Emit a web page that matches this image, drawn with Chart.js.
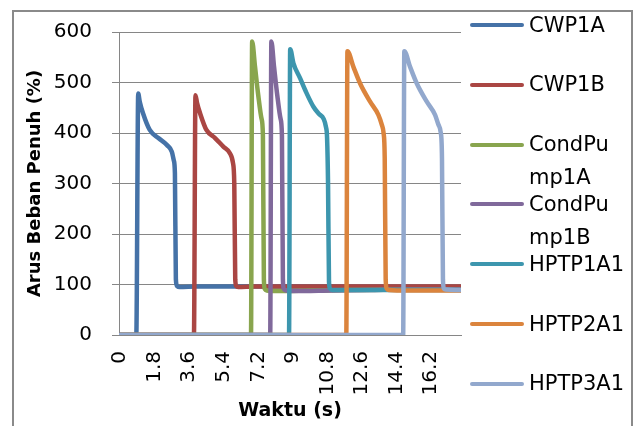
<!DOCTYPE html>
<html><head><meta charset="utf-8">
<script src="https://cdn.jsdelivr.net/npm/chart.js@4.4.0/dist/chart.umd.min.js"></script>
<style>
html,body{margin:0;padding:0;background:#fff;overflow:hidden}
#wrap{position:relative;width:634px;height:426px;overflow:hidden}
#frame{position:absolute;left:12px;top:10px;width:621px;height:520px;border-left:2px solid #8a8a8a;border-top:2px solid #8a8a8a;border-right:2px solid #8a8a8a;box-sizing:border-box}
#c{position:absolute;left:0;top:0}
#legend{position:absolute;left:0;top:0;font-family:"DejaVu Sans";font-size:21px;color:#000}
.li{position:absolute;left:470px;height:33px;line-height:33px}
.sw{position:absolute;left:0;top:14.5px;width:54px;height:4px;border-radius:2px}
.tx{position:absolute;left:59px;top:0;width:98px;word-break:break-all;white-space:normal}
</style></head>
<body>
<div id="wrap">
<div id="frame"></div>
<canvas id="c" width="634" height="426"></canvas>
<div id="legend"></div>
</div>
<script>
// ---- data ----
const seriesNames = ['CWP1A','CWP1B','CondPump1A','CondPump1B','HPTP1A1','HPTP2A1','HPTP3A1'];
const seriesColors = ['#4572A7','#AA4643','#89A54E','#80699B','#3D96AE','#DB843D','#92A8CD'];

const tickValues = [0,1.8,3.6,5.4,7.2,9,10.8,12.6,14.4,16.2];
const tickLabels = ['0','1.8','3.6','5.4','7.2','9','10.8','12.6','14.4','16.2'];

const cwp1aT = [0,0.85,0.95,1.03,1.2,1.55,2.0,2.45,2.7,2.8,2.86,2.91,2.97,3.1,4.0,6.0,9.0,12.0,15.0,17.7];
const cwp1aV = [0,0,478,462,439,406,390,376,363,346,320,110,97,95,96,96,96,95,95,95];

const cwp1bT = [0,3.85,3.93,4.01,4.17,4.5,4.95,5.38,5.72,5.88,5.95,6.0,6.05,6.15,7,9,12,15,17.7];
const cwp1bV = [0,0,475,460,439,406,390,373,360,341,300,110,97,95,96,96,96,96,96];

const cond1aT = [0,6.82,6.88,7.03,7.2,7.37,7.44,7.49,7.54,7.65,8,10,12,15,17.7];
const cond1aV = [0,0,581,531,474,428,395,110,91,88,87,88,89,90,90];

const cond1bT = [0,7.82,7.88,8.02,8.19,8.36,8.43,8.48,8.53,8.65,9,11,13,15,17.7];
const cond1bV = [0,0,581,531,474,428,395,110,91,88,87,88,89,90,90];

const hptp1T = [0,8.8,8.86,9.03,9.38,9.7,10.07,10.35,10.6,10.72,10.78,10.83,10.88,10.93,11.05,12,14,17.7];
const hptp1V = [0,0,566,538,508,480,452,438,428,412,390,300,105,92,89,89,89,89];

const hptp2T = [0,11.78,11.84,12.15,12.5,13.02,13.45,13.63,13.72,13.78,13.83,13.88,14.0,15,17.7];
const hptp2V = [0,0,562,531,498,462,436,416,400,350,110,92,89,88,88];

const hptp3T = [0,14.74,14.8,15.1,15.45,15.97,16.4,16.58,16.7,16.76,16.81,16.86,16.98,17.7];
const hptp3V = [0,0,562,531,498,462,436,416,400,350,110,92,90,89];

const seriesT = [cwp1aT,cwp1bT,cond1aT,cond1bT,hptp1T,hptp2T,hptp3T];
const seriesV = [cwp1aV,cwp1bV,cond1aV,cond1bV,hptp1V,hptp2V,hptp3V];

// ---- chart ----
const n = seriesNames.length;
const datasets = seriesNames.map((name,i)=>({
  label: name,
  data: seriesT[i].map((t,k)=>({x:t,y:seriesV[i][k]})),
  borderColor: seriesColors[i],
  backgroundColor: seriesColors[i],
  borderWidth: 4.5,
  pointRadius: 0,
  cubicInterpolationMode: 'monotone',
  borderCapStyle: 'round',
  borderJoinStyle: 'round',
  fill: false,
  order: n-1-i
}));

const gridGray = '#868686';
new Chart(document.getElementById('c'), {
  type: 'line',
  data: { datasets },
  options: {
    responsive: false,
    animation: false,
    devicePixelRatio: 1,
    layout: { padding: { left: 21, right: 173, top: 32, bottom: 0 } },
    plugins: { legend: { display: false }, tooltip: { enabled: false } },
    scales: {
      x: {
        type: 'linear',
        min: -0.05,
        max: 17.75,
        afterFit: s => { s.height = 91; },
        afterBuildTicks: s => { s.ticks = tickValues.map(v=>({value:v})); },
        grid: { display: false, drawTicks: false },
        border: { display: true, color: gridGray, width: 1 },
        ticks: {
          autoSkip: false, minRotation: 90, maxRotation: 90, padding: 16,
          color: '#000', font: { family: 'DejaVu Sans', size: 20 },
          callback: (v,i) => tickLabels[i]
        },
        title: { display: true, text: 'Waktu (s)', color: '#000',
          font: { family: 'DejaVu Sans', size: 19, weight: 'bold' }, padding: { top: 4, bottom: 4 } }
      },
      y: {
        min: 0, max: 600,
        afterFit: s => { s.width = 98; },
        ticks: { stepSize: 100, padding: 20, color: '#000', font: { family: 'DejaVu Sans', size: 20 } },
        grid: { color: gridGray, lineWidth: 1, tickLength: 7, drawTicks: true },
        border: { display: true, color: gridGray, width: 1 },
        title: { display: true, text: 'Arus Beban Penuh (%)', color: '#000',
          font: { family: 'DejaVu Sans', size: 18, weight: 'bold' }, padding: { top: 4, bottom: 4 } }
      }
    }
  }
});

// ---- legend (HTML text) ----
const lg = document.getElementById('legend');
seriesNames.forEach((name,i)=>{
  const it = document.createElement('div');
  it.className = 'li';
  it.style.top = (25 + i*59.8 - 16.5) + 'px';
  const sw = document.createElement('div');
  sw.className = 'sw';
  sw.style.background = seriesColors[i];
  const tx = document.createElement('div');
  tx.className = 'tx';
  tx.textContent = name;
  it.appendChild(sw); it.appendChild(tx);
  lg.appendChild(it);
});
</script>
</body></html>
